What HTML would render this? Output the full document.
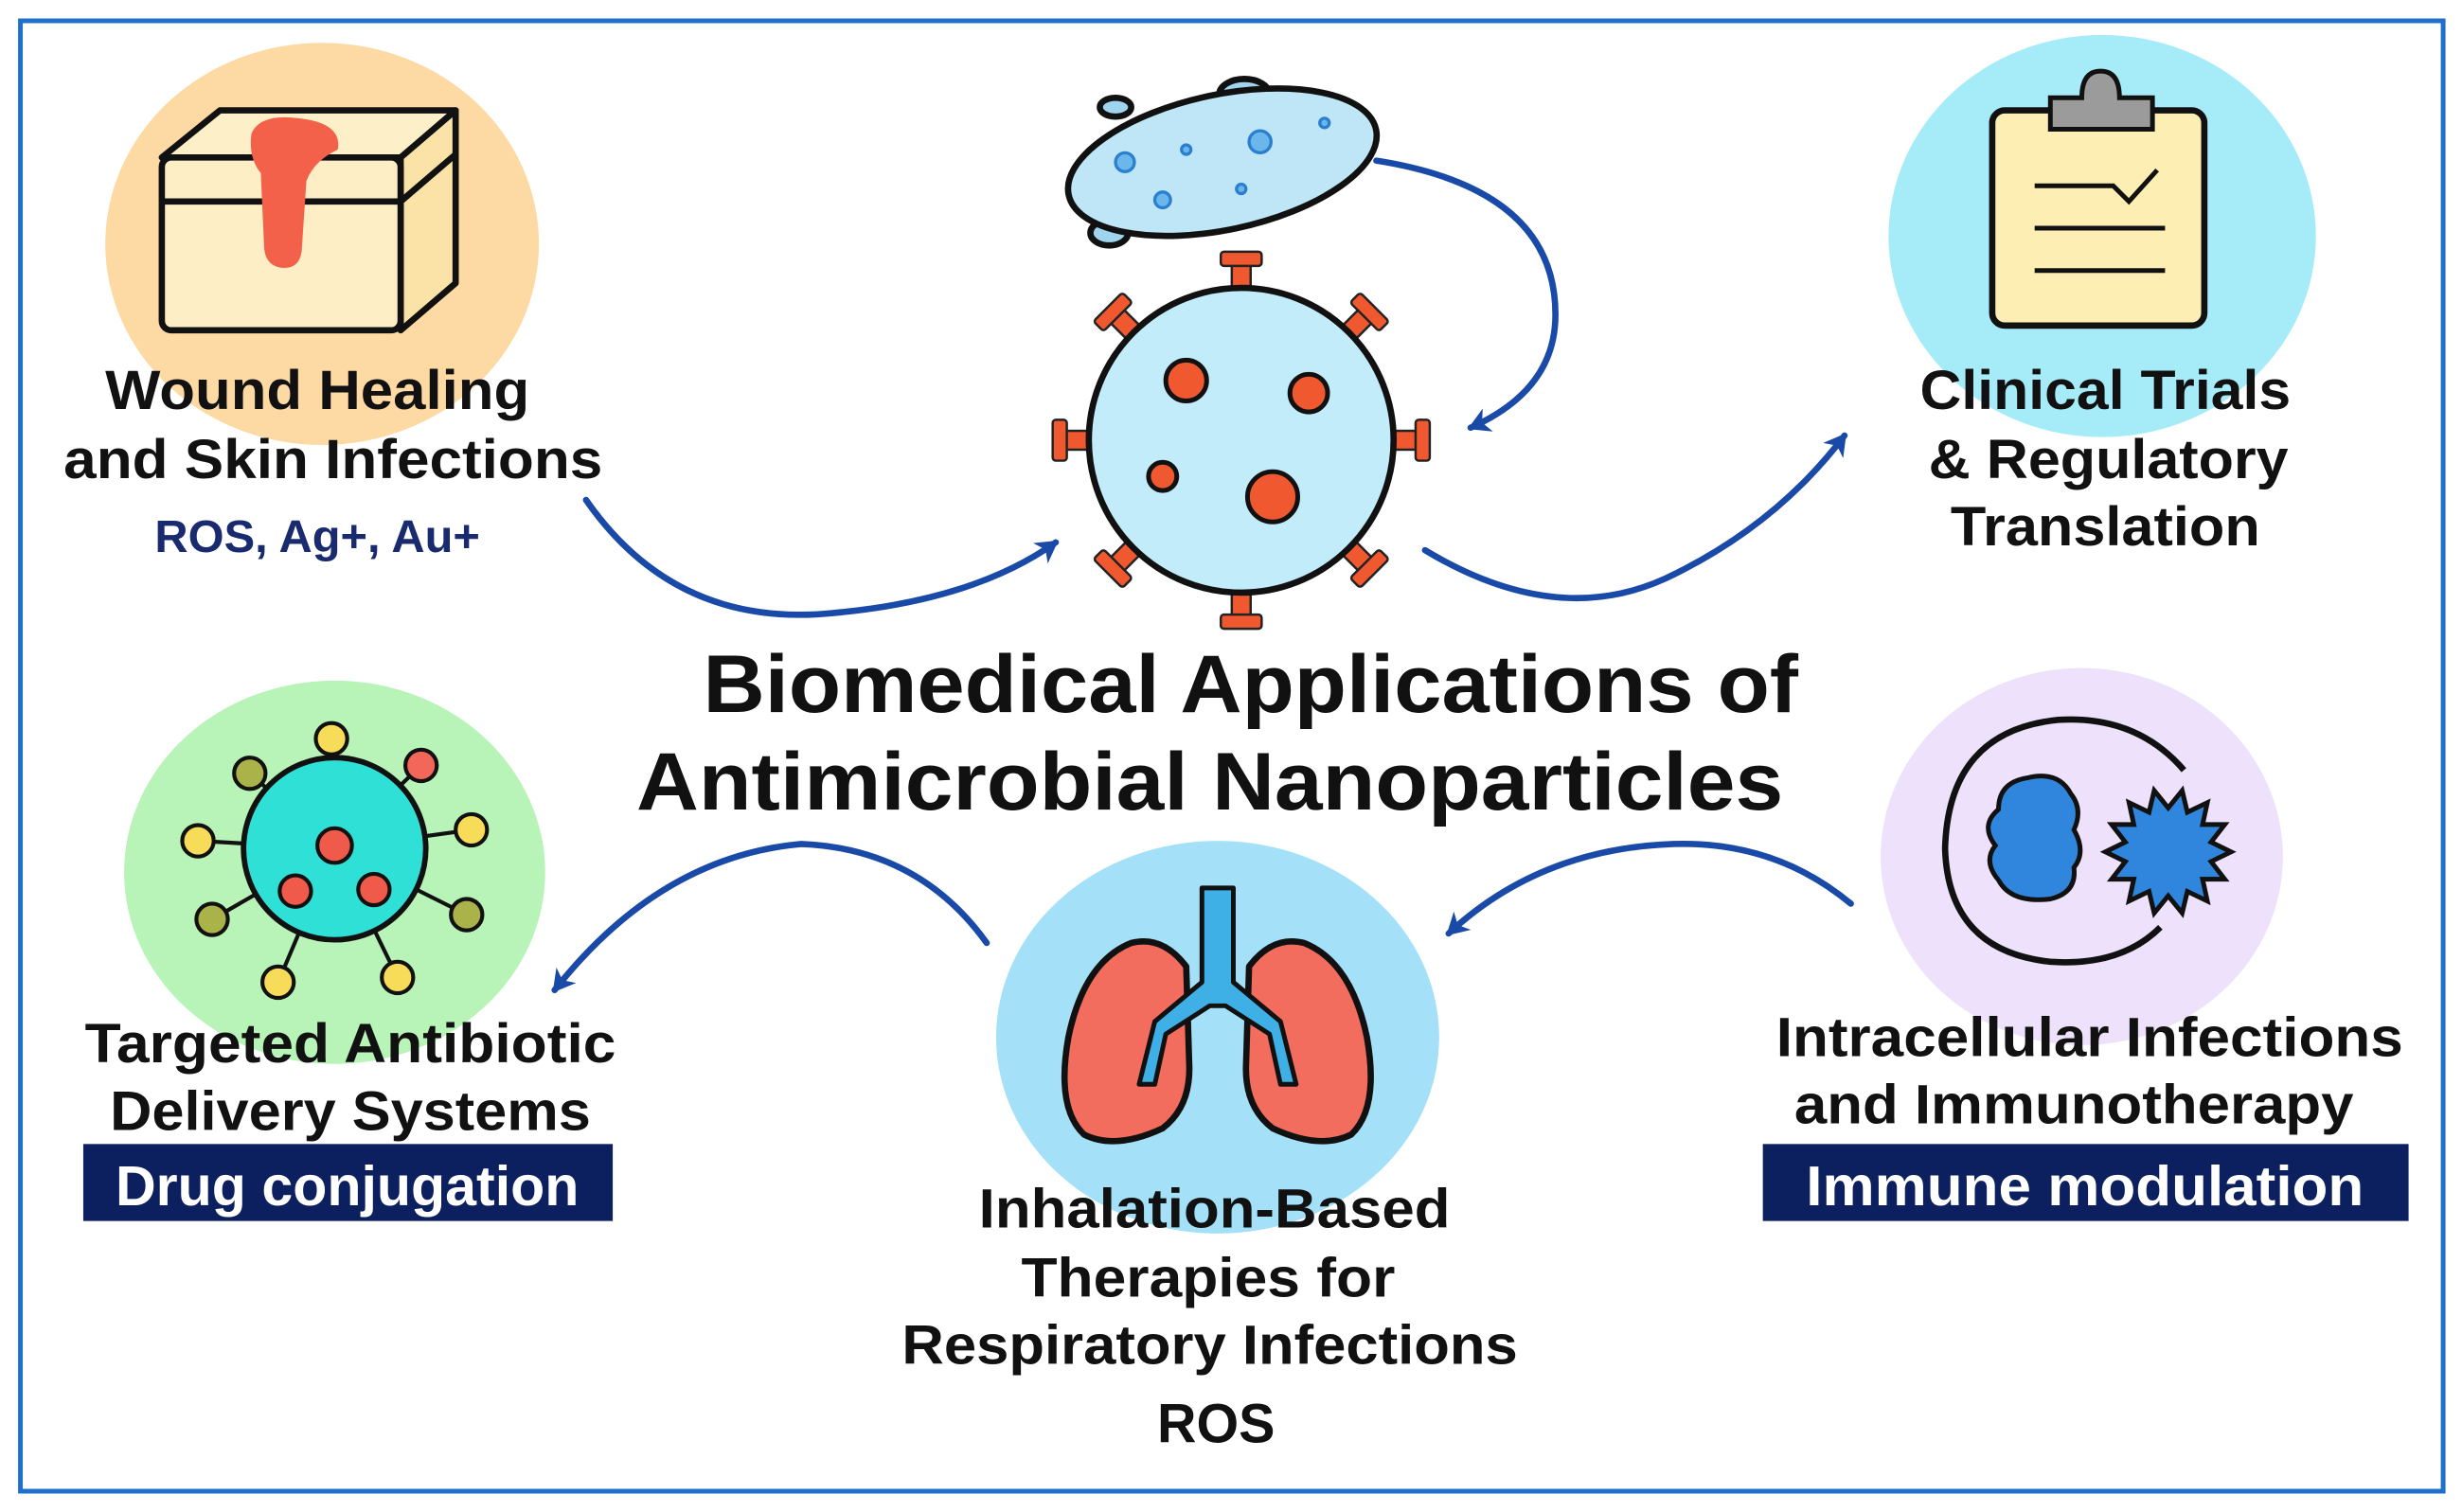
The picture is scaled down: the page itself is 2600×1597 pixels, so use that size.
<!DOCTYPE html>
<html><head><meta charset="utf-8"><style>
html,body{margin:0;padding:0;background:#fff}
svg{display:block}
text{font-family:"Liberation Sans",sans-serif;font-weight:bold;text-anchor:middle}
</style></head><body>
<svg width="2600" height="1597" viewBox="0 0 1567 962" xmlns="http://www.w3.org/2000/svg">
<defs>
<marker id="a2" markerWidth="20" markerHeight="20" refX="14" refY="10" orient="auto" markerUnits="userSpaceOnUse">
<path d="M2,2 L16,10 L2,18 L6,10 Z" fill="#1a4aa8"/></marker>
</defs>
<rect width="1567" height="962" fill="#fff"/>
<rect x="13" y="13" width="1542" height="936" fill="none" stroke="#1f6fcc" stroke-width="3"/>

<ellipse cx="205" cy="155" rx="138" ry="128" fill="#fdd9a3"/>
<ellipse cx="1338" cy="150" rx="136" ry="128" fill="#a6ecf8"/>
<ellipse cx="213" cy="555" rx="134" ry="122" fill="#b8f3b8"/>
<ellipse cx="775" cy="660" rx="141" ry="125" fill="#a4e1f8"/>
<ellipse cx="1325" cy="545" rx="128" ry="120" fill="#ede1fb"/>

<g stroke="#111" stroke-width="4" stroke-linejoin="round">
<path d="M103,100 L140,70 L290,70 L255,100 Z" fill="#fdf0c8"/>
<path d="M255,100 L290,70 L290,180 L255,210 Z" fill="#fbe3a8"/>
<rect x="103" y="100" width="152" height="110" rx="6" fill="#fdeec6"/>
<line x1="103" y1="128" x2="255" y2="128"/>
<line x1="255" y1="128" x2="290" y2="98"/>
<path d="M160,85 Q165,72 190,75 Q218,78 215,95 Q200,102 195,115 L192,160 Q190,172 178,170 Q168,168 168,155 L166,110 Q158,100 160,85 Z" fill="#f4614a" stroke="none"/>
</g>

<g stroke="#111" stroke-width="4">
<ellipse cx="792" cy="60" rx="16" ry="10" fill="#9fd4ee"/>
<ellipse cx="706" cy="148" rx="12" ry="8" fill="#9fd4ee"/>
<ellipse cx="710" cy="68" rx="10" ry="6" fill="#9fd4ee"/>
<ellipse cx="778" cy="103" rx="100" ry="43" transform="rotate(-12 778 103)" fill="#bfe6f7"/>
</g>
<g fill="#6bb6ea" stroke="#2a7fcf" stroke-width="2">
<circle cx="716" cy="103" r="6"/><circle cx="755" cy="95" r="3"/><circle cx="802" cy="90" r="7"/>
<circle cx="843" cy="78" r="3"/><circle cx="740" cy="127" r="5"/><circle cx="790" cy="120" r="3"/>
</g>

<g fill="#f0582f" stroke="#222" stroke-width="1.5">
<g id="sp"><rect x="784" y="162" width="12" height="28"/><rect x="777" y="160" width="26" height="9" rx="2"/></g>
<use href="#sp" transform="rotate(45 790 280)"/><use href="#sp" transform="rotate(90 790 280)"/>
<use href="#sp" transform="rotate(135 790 280)"/><use href="#sp" transform="rotate(180 790 280)"/>
<use href="#sp" transform="rotate(225 790 280)"/><use href="#sp" transform="rotate(270 790 280)"/>
<use href="#sp" transform="rotate(315 790 280)"/>
</g>
<circle cx="790" cy="280" r="97" fill="#c3ecfa" stroke="#111" stroke-width="4"/>
<g fill="#f0582f" stroke="#111" stroke-width="3">
<circle cx="755" cy="242" r="13"/><circle cx="833" cy="250" r="12"/><circle cx="740" cy="303" r="9"/><circle cx="810" cy="316" r="16"/>
</g>

<g stroke="#111" stroke-width="4">
<rect x="1268" y="70" width="135" height="137" rx="8" fill="#fdefb4"/>
<path d="M1305,82 L1305,62 L1325,62 Q1325,45 1337,45 Q1349,45 1349,62 L1370,62 L1370,82 Z" fill="#9b9b9b" stroke-width="3"/>
<path d="M1295,118 L1345,118 L1355,128 L1373,108" fill="none" stroke-width="3"/>
<line x1="1295" y1="145" x2="1378" y2="145" stroke-width="3"/>
<line x1="1295" y1="172" x2="1378" y2="172" stroke-width="3"/>
</g>

<g stroke="#111" stroke-width="2.5">
<line x1="213" y1="540" x2="211" y2="470"/><line x1="213" y1="540" x2="268" y2="487"/>
<line x1="213" y1="540" x2="300" y2="528"/><line x1="213" y1="540" x2="297" y2="582"/>
<line x1="213" y1="540" x2="253" y2="622"/><line x1="213" y1="540" x2="177" y2="625"/>
<line x1="213" y1="540" x2="135" y2="585"/><line x1="213" y1="540" x2="126" y2="535"/>
<line x1="213" y1="540" x2="159" y2="492"/>
<circle cx="213" cy="540" r="58" fill="#2fe0d6" stroke-width="3.5"/>
<circle cx="211" cy="470" r="10" fill="#f7dc5a"/><circle cx="268" cy="487" r="10" fill="#f3665a"/>
<circle cx="300" cy="528" r="10" fill="#f7dc5a"/><circle cx="297" cy="582" r="10" fill="#aab24a"/>
<circle cx="253" cy="622" r="10" fill="#f7dc5a"/><circle cx="177" cy="625" r="10" fill="#f7dc5a"/>
<circle cx="135" cy="585" r="10" fill="#aab24a"/><circle cx="126" cy="535" r="10" fill="#f7dc5a"/>
<circle cx="159" cy="492" r="10" fill="#aab24a"/>
<circle cx="213" cy="538" r="11" fill="#f05a4a"/><circle cx="188" cy="567" r="10" fill="#f05a4a"/><circle cx="238" cy="566" r="10" fill="#f05a4a"/>
</g>

<g stroke="#111" stroke-width="4" stroke-linejoin="round">
<path d="M755,615 Q740,595 720,600 Q690,612 680,660 Q672,705 690,722 Q710,732 740,718 Q757,705 757,680 Z" fill="#f26d5e"/>
<path d="M795,615 Q810,595 830,600 Q860,612 870,660 Q878,705 860,722 Q840,732 810,718 Q793,705 793,680 Z" fill="#f26d5e"/>
<path d="M765,565 L785,565 L785,625 L815,650 L825,690 L815,690 L808,658 L780,640 L770,640 L742,658 L735,690 L725,690 L735,650 L765,625 Z" fill="#3fb0e6" stroke-width="3"/>
</g>

<g stroke="#111" stroke-width="4">
<path d="M1390,490 Q1360,455 1310,458 Q1240,465 1238,540 Q1240,605 1305,612 Q1350,615 1375,590" fill="none"/>
<path d="M1290,495 Q1310,490 1318,505 Q1326,515 1320,528 Q1328,542 1320,552 Q1322,568 1305,572 Q1280,575 1272,560 Q1262,548 1270,538 Q1260,525 1272,515 Q1272,498 1290,495 Z" fill="#2f86dc" stroke-width="3"/>
<polygon fill="#2f86dc" stroke-width="3" points="1420,542 1407.3,548.2 1416,559.4 1401.9,559.4 1404.9,573.3 1392.2,567.2 1388.9,581 1380,570 1371.1,581 1367.8,567.2 1355.1,573.3 1358.1,559.4 1344,559.4 1352.7,548.2 1340,542 1352.7,535.8 1344,524.6 1358.1,524.6 1355.1,510.7 1367.8,516.8 1371.1,503 1380,514 1388.9,503 1392.2,516.8 1404.9,510.7 1401.9,524.6 1416,524.6 1407.3,535.8"/>
</g>

<g fill="none" stroke="#1a4aa8" stroke-width="4" stroke-linecap="round">
<path d="M373,318 Q430,400 530,390 Q620,382 672,345" marker-end="url(#a2)"/>
<path d="M907,350 Q990,400 1060,368 Q1130,335 1174,277" marker-end="url(#a2)"/>
<path d="M876,102 Q990,120 990,200 Q990,248 936,272" marker-end="url(#a2)"/>
<path d="M628,600 Q585,540 510,537 Q420,545 353,630" marker-end="url(#a2)"/>
<path d="M1178,575 Q1130,535 1065,537 Q980,540 922,594" marker-end="url(#a2)"/>
</g>

<g fill="#111" font-size="35">
<text x="202" y="260" textLength="270" lengthAdjust="spacingAndGlyphs">Wound Healing</text>
<text x="212" y="304" textLength="343" lengthAdjust="spacingAndGlyphs">and Skin Infections</text>
<text x="1340" y="260" textLength="236" lengthAdjust="spacingAndGlyphs">Clinical Trials</text>
<text x="1342" y="304" textLength="229" lengthAdjust="spacingAndGlyphs">&amp; Regulatory</text>
<text x="1340" y="347" textLength="197" lengthAdjust="spacingAndGlyphs">Translation</text>
<text x="223" y="676" textLength="338" lengthAdjust="spacingAndGlyphs">Targeted Antibiotic</text>
<text x="223" y="719" textLength="306" lengthAdjust="spacingAndGlyphs">Delivery Systems</text>
<text x="1330" y="672" textLength="399" lengthAdjust="spacingAndGlyphs">Intracellular Infections</text>
<text x="1320" y="715" textLength="356" lengthAdjust="spacingAndGlyphs">and Immunotherapy</text>
<text x="773" y="781" textLength="300" lengthAdjust="spacingAndGlyphs">Inhalation-Based</text>
<text x="769" y="825" textLength="238" lengthAdjust="spacingAndGlyphs">Therapies for</text>
<text x="770" y="868" textLength="392" lengthAdjust="spacingAndGlyphs">Respiratory Infections</text>
<text x="774" y="918" textLength="75" lengthAdjust="spacingAndGlyphs">ROS</text>
</g>
<text x="202" y="351" font-size="29" fill="#1a2a6e" textLength="207" lengthAdjust="spacingAndGlyphs">ROS, Ag+, Au+</text>
<text x="796" y="453" font-size="52" fill="#111" textLength="697" lengthAdjust="spacingAndGlyphs">Biomedical Applications of</text>
<text x="770" y="515" font-size="52" fill="#111" textLength="730" lengthAdjust="spacingAndGlyphs">Antimicrobial Nanoparticles</text>

<rect x="53" y="728" width="337" height="49" fill="#0c1f5e"/>
<text x="221" y="767" font-size="36" fill="#fff" textLength="295" lengthAdjust="spacingAndGlyphs">Drug conjugation</text>
<rect x="1122" y="728" width="411" height="49" fill="#0c1f5e"/>
<text x="1327" y="767" font-size="36" fill="#fff" textLength="355" lengthAdjust="spacingAndGlyphs">Immune modulation</text>
</svg>
</body></html>
